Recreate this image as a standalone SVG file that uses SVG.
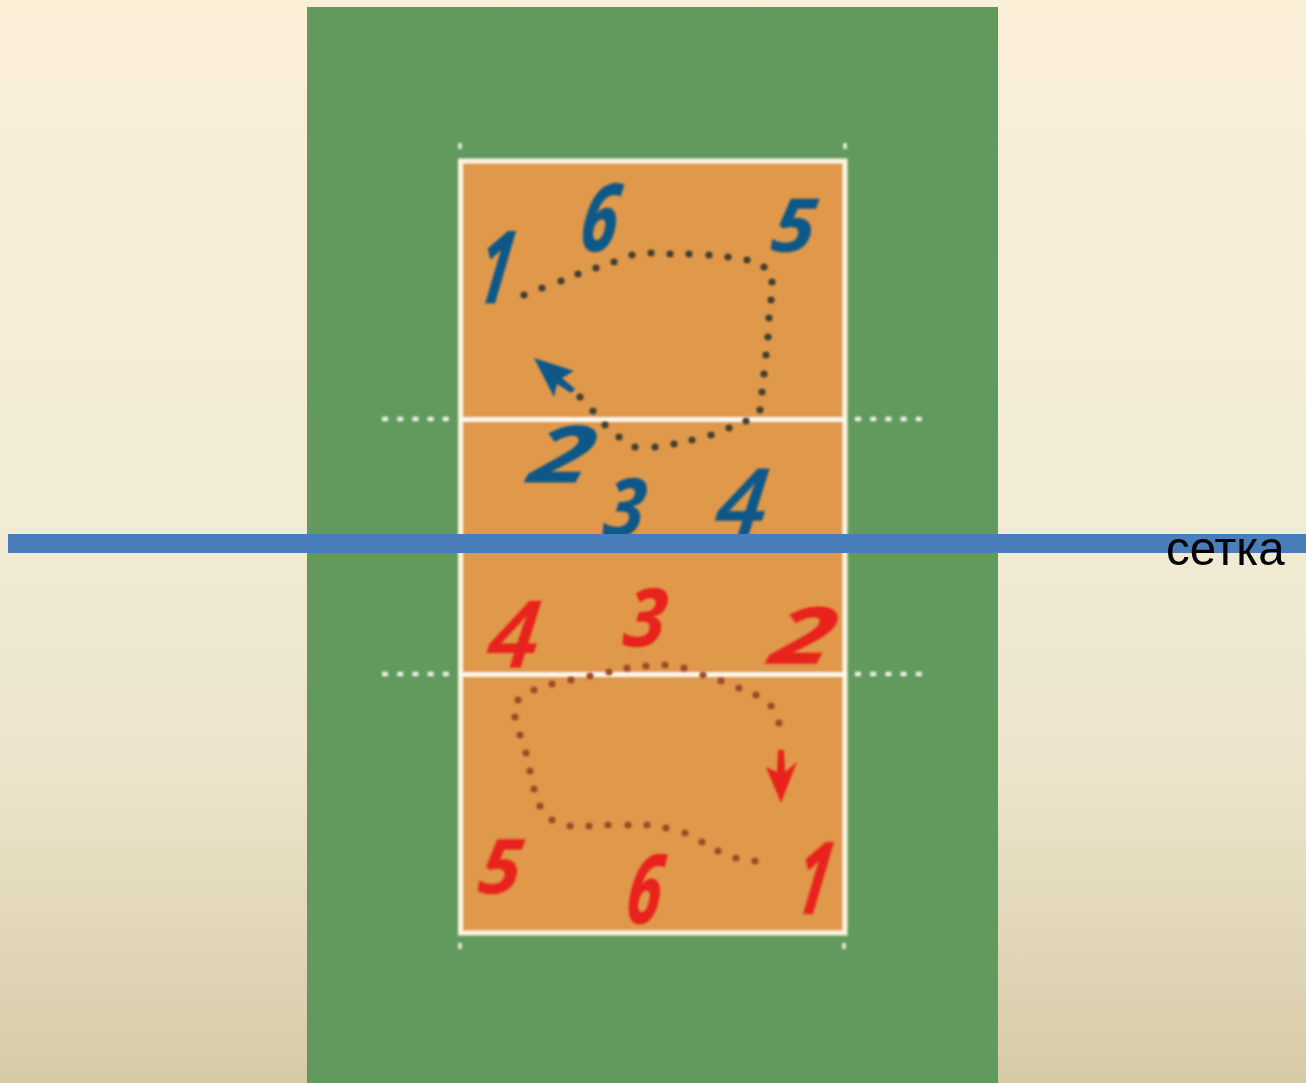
<svg xmlns="http://www.w3.org/2000/svg" width="1306" height="1083" viewBox="0 0 1306 1083">
<style>
.d{font-family:"Open Sans","Liberation Sans",sans-serif;font-weight:700;font-style:italic;font-size:100px}
.t{font-weight:600}
.b{fill:#0F5888;stroke:#0F5888;stroke-width:1}
.r{fill:#E8231B;stroke:#E8231B;stroke-width:1}
.dk circle{fill:#45402F;r:3.6px}
.dr circle{fill:#9E4B28;r:3.6px}
.ext{stroke:#E6F3E0;stroke-width:4.500;stroke-dasharray:6 9.200;fill:none}
.mk{fill:#D5E8CC}
</style>
<defs>
<linearGradient id="bg" x1="0" y1="0" x2="0" y2="1">
<stop offset="0" stop-color="#FBEFD8"/>
<stop offset="0.5" stop-color="#F1EBD4"/>
<stop offset="0.72" stop-color="#EBE3CA"/>
<stop offset="1" stop-color="#D7CAA7"/>
</linearGradient>
<filter id="soft" x="-5%" y="-5%" width="110%" height="110%"><feGaussianBlur stdDeviation="0.9"/></filter>
</defs>
<rect width="1306" height="1083" fill="url(#bg)"/>
<rect x="307" y="7" width="691" height="1076" fill="#629A5E"/>
<g id="court" filter="url(#soft)">
<rect x="460.500" y="161" width="384.500" height="772" fill="#E0994B" stroke="#FBF3E0" stroke-width="5"/>
<path d="M460 419.500H846M460 674.500H846" stroke="#FFFAEE" stroke-width="4.500" fill="none"/>
<path class="ext" d="M382 419H452M855 419H924M382 674H452M855 674H924"/>
<rect class="mk" x="458" y="143" width="4" height="6"/><rect class="mk" x="843" y="143" width="4" height="6"/>
<rect class="mk" x="458" y="943" width="4" height="6"/><rect class="mk" x="842" y="943" width="4" height="6"/>
</g>
<g id="connectors" filter="url(#soft)">
<g id="route-blue" class="dk">
<circle cx="524" cy="295"/><circle cx="542" cy="288"/><circle cx="561" cy="281"/><circle cx="578" cy="274"/><circle cx="596" cy="268"/><circle cx="614" cy="262"/><circle cx="632" cy="255"/><circle cx="651" cy="253"/><circle cx="670" cy="254"/><circle cx="689" cy="254"/><circle cx="709" cy="255"/><circle cx="728" cy="257"/><circle cx="747" cy="260"/><circle cx="764" cy="267"/><circle cx="772" cy="282"/><circle cx="771" cy="300"/><circle cx="769" cy="318"/><circle cx="768" cy="337"/><circle cx="766" cy="355"/><circle cx="764" cy="374"/><circle cx="762" cy="392"/><circle cx="760" cy="410"/><circle cx="746" cy="421"/><circle cx="729" cy="428"/><circle cx="711" cy="435"/><circle cx="692" cy="440"/><circle cx="674" cy="444"/><circle cx="655" cy="447"/><circle cx="635" cy="447"/><circle cx="619" cy="437"/><circle cx="605" cy="425"/><circle cx="593" cy="411"/><circle cx="580" cy="397"/>
<polygon points="534,358 574,371 562,378 575,389 571,393 557,384 554,397" fill="#0F5888"/>
</g>
<g id="route-red" class="dr">
<circle cx="755" cy="861"/><circle cx="736" cy="858"/><circle cx="718" cy="851"/><circle cx="702" cy="842"/><circle cx="685" cy="833"/><circle cx="666" cy="828"/><circle cx="647" cy="825"/><circle cx="628" cy="825"/><circle cx="608" cy="825"/><circle cx="589" cy="826"/><circle cx="570" cy="826"/><circle cx="552" cy="820"/><circle cx="540" cy="806"/><circle cx="534" cy="789"/><circle cx="530" cy="771"/><circle cx="526" cy="753"/><circle cx="520" cy="735"/><circle cx="515" cy="717"/><circle cx="518" cy="700"/><circle cx="534" cy="690"/><circle cx="552" cy="684"/><circle cx="571" cy="680"/><circle cx="590" cy="676"/><circle cx="609" cy="672"/><circle cx="627" cy="668"/><circle cx="646" cy="666"/><circle cx="665" cy="665"/><circle cx="684" cy="668"/><circle cx="703" cy="675"/><circle cx="721" cy="681"/><circle cx="739" cy="688"/><circle cx="756" cy="695"/><circle cx="771" cy="706"/><circle cx="779" cy="723"/>
<polygon points="778,750 784,750 785,772 797,762 781,803 766,767 777,772" fill="#E8231B"/>
</g>
</g>
<g id="team-blue" filter="url(#soft)">
<text id="b1" class="d b" transform="matrix(.62 0 -.16 1 474 303)">1</text>
<text id="b6" class="d b" transform="matrix(.66 0 -.12 .92 578 251)">6</text>
<text id="b5" class="d b" transform="matrix(.76 0 -.1 .72 770 251)">5</text>
<text id="b2" class="d b" transform="matrix(1.08 0 -.2 .78 527 482)">2</text>
<text id="b3" class="d b" transform="matrix(.72 0 -.1 .8 602 536)">3</text>
<text id="b4" class="d t b" transform="matrix(.9 0 -.1 .92 714 535)">4</text>
</g>
<g id="team-red" filter="url(#soft)">
<text id="r4" class="d t r" transform="matrix(.9 0 -.1 .92 486 667)">4</text>
<text id="r3" class="d r" transform="matrix(.74 0 -.1 .8 622 646)">3</text>
<text id="r2" class="d r" transform="matrix(1.08 0 -.2 .78 768 663)">2</text>
<text id="r5" class="d r" transform="matrix(.74 0 -.1 .75 477 893)">5</text>
<text id="r6" class="d r" transform="matrix(.62 0 -.12 .95 624 923)">6</text>
<text id="r1" class="d r" transform="matrix(.62 0 -.16 1 792 914)">1</text>
</g>
<g id="net">
<rect x="8" y="534" width="1298" height="19" fill="#4A7EBB"/>
<text x="1166" y="565" font-family="'Liberation Sans',Arial,sans-serif" font-size="47.500" fill="#000">сетка</text>
</g>
</svg>
